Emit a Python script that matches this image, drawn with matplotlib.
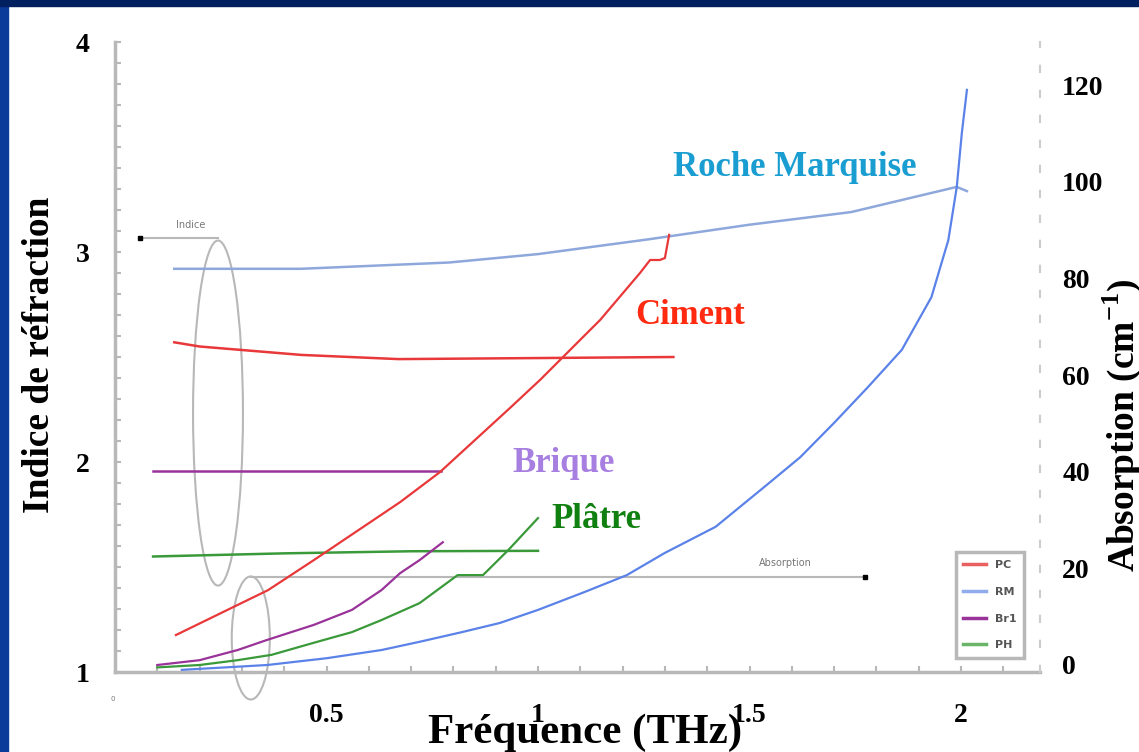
import matplotlib
matplotlib.use("Agg")
import numpy as np
import matplotlib.pyplot as plt
from matplotlib.patches import Ellipse, Rectangle
from matplotlib.lines import Line2D

plt.rcParams['mathtext.fontset'] = 'custom'
plt.rcParams['mathtext.rm'] = 'Liberation Serif:bold'
plt.rcParams['mathtext.bf'] = 'Liberation Serif:bold'

# --- indice de refraction (axe de gauche) ---
rm_n_freq = [0.14, 0.44, 0.79, 1.00, 1.26, 1.50, 1.74, 1.99, 2.014]
rm_n = [2.92, 2.92, 2.95, 2.99, 3.06, 3.13, 3.19, 3.31, 3.29]

pc_n_freq = [0.14, 0.20, 0.44, 0.67, 1.00, 1.32]
pc_n = [2.57, 2.55, 2.51, 2.49, 2.495, 2.50]

br_n_freq = [0.09, 0.77]
br_n = [1.955, 1.955]

ph_n_freq = [0.09, 0.40, 0.70, 1.00]
ph_n = [1.55, 1.565, 1.575, 1.577]

# --- absorption en cm-1 (axe de droite) ---
pc_a_freq = [0.144, 0.362, 0.470, 0.674, 0.768, 0.934, 1.005, 1.147, 1.241, 1.265, 1.288, 1.300, 1.310]
pc_a = [6.2, 15.5, 21.7, 33.7, 39.9, 53.2, 59.0, 71.4, 81.1, 83.8, 83.8, 84.2, 89.0]

br_a_freq = [0.10, 0.20, 0.29, 0.36, 0.47, 0.56, 0.63, 0.674, 0.72, 0.775]
br_a = [0.0, 1.0, 3.1, 5.2, 8.3, 11.4, 15.5, 19.0, 21.7, 25.4]

ph_a_freq = [0.10, 0.20, 0.29, 0.37, 0.47, 0.56, 0.63, 0.72, 0.81, 0.87, 0.93, 1.00]
ph_a = [-0.5, 0.0, 1.0, 2.1, 4.6, 6.8, 9.3, 12.8, 18.6, 18.6, 23.8, 30.4]

rm_a_freq = [0.158, 0.24, 0.36, 0.50, 0.63, 0.72, 0.82, 0.91, 1.00, 1.11, 1.21, 1.30,
             1.42, 1.54, 1.62, 1.70, 1.78, 1.86, 1.93, 1.97, 1.99, 2.002, 2.014]
rm_a = [-1.0, -0.6, 0.0, 1.4, 3.1, 4.8, 6.8, 8.7, 11.4, 15.1, 18.6, 23.2,
        28.6, 37.2, 43.0, 50.1, 57.5, 65.2, 76.1, 87.9, 98.9, 110.1, 119.0]

x_ticks = [0.5, 1, 1.5, 2]
x_tick_labels = ['0.5', '1', '1.5', '2']
left_ticks = [1, 2, 3, 4]
right_ticks = [0, 20, 40, 60, 80, 100, 120]

c_red = '#e8383a'
c_blue = '#5b82e8'
c_blue_n = '#8fa8dc'
c_purple = '#993399'
c_green = '#3a9a3a'
c_grey = '#b8b8b8'

serif = 'Liberation Serif'
tick_font = dict(family=serif, weight='bold', size=20)

fig = plt.figure(figsize=(11.39, 7.52), dpi=100)
fig.patch.set_facecolor('white')
fig.patches.append(Rectangle((0, 0), 8 / 1139, 1, transform=fig.transFigure,
                             color='#0a3a9a', zorder=-5))
fig.patches.append(Rectangle((0, 1 - 6 / 752), 1, 6 / 752, transform=fig.transFigure,
                             color='#002060', zorder=-5))

ax = fig.add_axes([115 / 1139, 80 / 752, 925 / 1139, 630 / 752])
ax.set_facecolor('none')
ax2 = ax.twinx()

ax.set_xlim(0, 925 / 423)
ax.set_ylim(1, 4)
ax2.set_ylim((665 - 672) / 4.833, (665 - 42) / 4.833)

# courbes d'indice
ax.plot(rm_n_freq, rm_n, color=c_blue_n, lw=1.8)
ax.plot(pc_n_freq, pc_n, color=c_red, lw=1.8)
ax.plot(br_n_freq, br_n, color=c_purple, lw=1.8)
ax.plot(ph_n_freq, ph_n, color=c_green, lw=1.8)

# courbes d'absorption
ax2.plot(pc_a_freq, pc_a, color=c_red, lw=1.6)
ax2.plot(rm_a_freq, rm_a, color=c_blue, lw=1.6)
ax2.plot(br_a_freq, br_a, color=c_purple, lw=1.6)
ax2.plot(ph_a_freq, ph_a, color=c_green, lw=1.6)

# axes
for s in ['top', 'right']:
    ax.spines[s].set_visible(False)
for s in ['left', 'bottom']:
    ax.spines[s].set_color(c_grey)
    ax.spines[s].set_linewidth(2.5)
for s in ['top', 'left', 'bottom']:
    ax2.spines[s].set_visible(False)
ax2.spines['right'].set_color('#cccccc')
ax2.spines['right'].set_linewidth(1.5)
ax2.spines['right'].set_linestyle((0, (3, 9)))

ax.set_xticks(x_ticks)
ax.set_xticklabels(x_tick_labels, fontdict=tick_font)
ax.set_xticks(np.arange(0.1, 2.15, 0.1), minor=True)
ax.set_yticks(left_ticks)
ax.set_yticklabels([str(t) for t in left_ticks], fontdict=tick_font)
ax.set_yticks(np.arange(1.1, 4.0, 0.1), minor=True)
ax.tick_params(which='both', direction='in', length=4, width=1.5, color=c_grey)
ax.tick_params(axis='x', which='major', pad=22)
ax.tick_params(axis='y', which='major', pad=18)

ax2.set_yticks(right_ticks)
ax2.set_yticklabels([str(t) for t in right_ticks], fontdict=tick_font)
ax2.tick_params(axis='y', length=0, pad=16)

# annotations "Indice" / "Absorption"
ax.text(0.145, 3.13, 'Indice', fontsize=7, color='#777777', ha='left', va='center')
ax.plot([0.059, 0.243], [3.067, 3.067], color=c_grey, lw=1.5)
ax.plot([0.059], [3.067], 's', color='black', ms=3)
ax.add_patch(Ellipse((0.2435, 2.233), 0.118, 1.643, fill=False, ec=c_grey, lw=1.5))

ax.text(1.584, 1.52, 'Absorption', fontsize=7, color='#777777', ha='center', va='center')
ax.plot([0.321, 1.773], [1.452, 1.452], color=c_grey, lw=1.5)
ax.plot([1.773], [1.452], 's', color='black', ms=3)
ax.add_patch(Ellipse((0.321, 1.162), 0.09, 0.586, fill=False, ec=c_grey, lw=1.5,
                     clip_on=False))

# noms des materiaux
lab = dict(family=serif, weight='bold', size=25, ha='center', va='center')
ax.text(1.608, 3.40, 'Roche Marquise', color='#1a9dd0', **lab)
ax.text(1.359, 2.70, 'Ciment', color='#ff2a10', **lab)
ax.text(1.061, 1.995, 'Brique', color='#a77fe0', **lab)
ax.text(1.139, 1.724, 'Plâtre', color='#108010', **lab)

# legende
handles = [Line2D([], [], color='#e86060', lw=2.5),
           Line2D([], [], color='#90acec', lw=2.5),
           Line2D([], [], color=c_purple, lw=2.5),
           Line2D([], [], color='#6ab46a', lw=2.5)]
leg = fig.legend(handles, ['PC', 'RM', 'Br1', 'PH'], loc='lower right',
                 bbox_to_anchor=(1024 / 1139, 1 - 658 / 752), borderaxespad=0,
                 labelcolor='#555555', handlelength=2.0, borderpad=0.7,
                 labelspacing=1.5, fancybox=False, framealpha=1,
                 edgecolor=c_grey, prop={'weight': 'bold', 'size': 8})
leg.get_frame().set_linewidth(2.5)

# libelles des axes
fig.text(585 / 1139, 1 - 733 / 752, 'Fréquence (THz)', family=serif, weight='bold',
         size=31, ha='center', va='center')
fig.text(40 / 1139, 1 - 355 / 752, 'Indice de réfraction', family=serif, weight='bold',
         size=27, ha='center', va='center', rotation=90)
fig.text(1122 / 1139, 1 - 425 / 752, r'Absorption (cm$^{\mathrm{-1}}$)', family=serif,
         weight='bold', size=27, ha='center', va='center', rotation=90)
fig.text(113 / 1139, 1 - 699 / 752, '0', fontsize=5, color='#777777',
         ha='center', va='center')

fig.savefig('out.png', dpi=100)
